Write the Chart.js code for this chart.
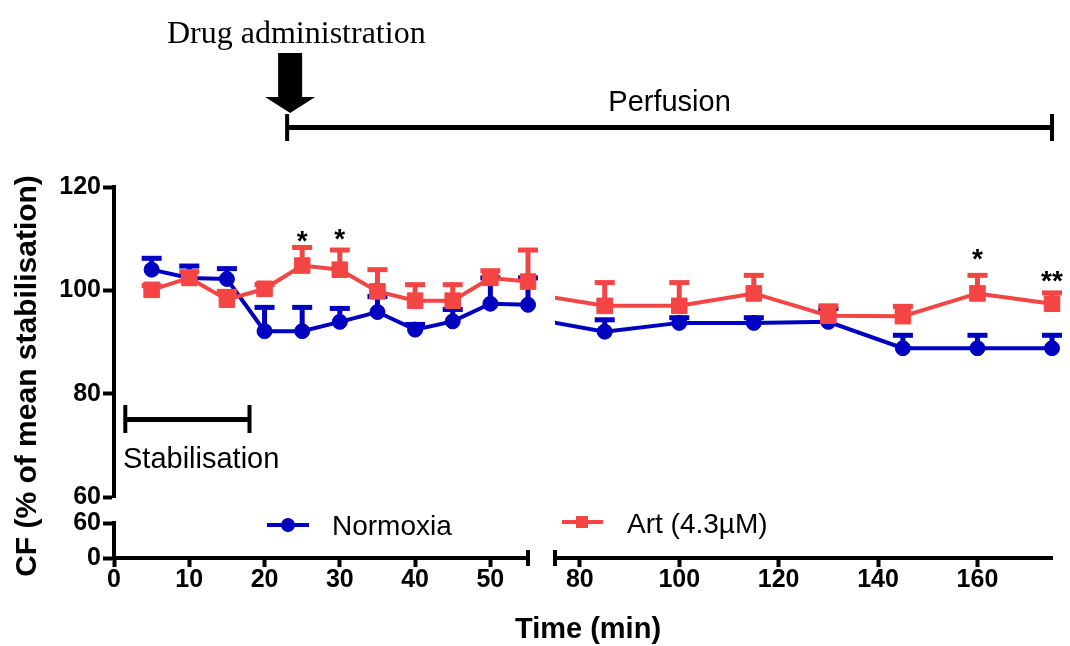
<!DOCTYPE html>
<html>
<head>
<meta charset="utf-8">
<script src="https://cdn.jsdelivr.net/npm/chart.js@4.4.0/dist/chart.umd.min.js"></script>
<style>
  html, body { margin: 0; padding: 0; background: #fff; }
  #wrap { position: relative; width: 1070px; height: 646px; overflow: hidden; }
  #wrap canvas { position: absolute; left: 0; top: 0; }
</style>
</head>
<body>
<div id="wrap">
  <canvas id="upperLeft" width="1070" height="646"></canvas>
  <canvas id="upperRight" width="1070" height="646"></canvas>
  <canvas id="lowerLeft" width="1070" height="646"></canvas>
  <canvas id="lowerRight" width="1070" height="646"></canvas>
</div>
<script>
// time points (min) and CF as % of mean stabilisation (mean, SEM)
const times = [5, 10, 15, 20, 25, 30, 35, 40, 45, 50, 55, 85, 100, 115, 130, 145, 160, 175];
const normoxia = [104.0, 102.4, 102.2, 92.1, 92.1, 93.9, 95.8, 92.4, 94.0, 97.4, 97.2, 92.0, 93.7, 93.7, 93.9, 88.8, 88.8, 88.8];
const normoxiaSem = [2.2, 2.3, 2.0, 4.6, 4.6, 2.6, 3.0, 1.0, 2.3, 5.0, 5.2, 2.3, 1.0, 1.0, 2.6, 2.5, 2.5, 2.5];
const art = [100.1, 102.4, 98.2, 100.3, 104.8, 104.0, 99.8, 98.0, 98.0, 102.4, 101.7, 97.0, 97.0, 99.4, 95.1, 95.0, 99.4, 97.4];
const artSem = [0.8, 1.2, 1.6, 0.8, 3.5, 3.8, 4.2, 3.1, 3.1, 1.4, 6.1, 4.5, 4.5, 3.5, 1.9, 1.9, 3.5, 2.1];

// significance marks
const sigTimes = [25, 30, 160, 175];
const sigMarks = ['*', '*', '*', '**'];
const sigLevels = [110.7, 111.1, 107.2, 103.0];

// axis segments and ticks
const leftTicks = [0, 10, 20, 30, 40, 50];
const rightTicks = [80, 100, 120, 140, 160];
const upperTicks = [60, 80, 100, 120];
const lowerTicks = [0, 60];

// protocol periods (min)
const stabilisation = [1.5, 18];
const perfusion = [23, 175];

const BLUE = '#0000c0';
const RED = '#f44545';
const INK = '#000';
const SANS = '"Liberation Sans", Arial, Helvetica, sans-serif';
const SERIF = '"Liberation Serif", "Times New Roman", serif';

function points(values, sems, keep) {
  return times
    .map((t, i) => ({ x: t, y: values[i], sem: sems[i] }))
    .filter(p => keep(p.x));
}

function seriesSets(keep, clip) {
  return [
    {
      label: 'Normoxia',
      data: points(normoxia, normoxiaSem, keep),
      borderColor: BLUE, backgroundColor: BLUE,
      pointStyle: 'circle', pointRadius: 7.5, pointBorderWidth: 1,
      borderWidth: 4, tension: 0, order: 2, clip
    },
    {
      label: 'Art (4.3µM)',
      data: points(art, artSem, keep),
      borderColor: RED, backgroundColor: RED,
      pointStyle: 'rect', pointRadius: 11, pointBorderWidth: 1,
      borderWidth: 4, tension: 0, order: 1, clip
    }
  ];
}

const errorBars = {
  id: 'errorBars',
  beforeDatasetDraw(chart, args) {
    const { ctx, scales: { x, y } } = chart;
    const ds = chart.data.datasets[args.index];
    ctx.save();
    ctx.fillStyle = ds.borderColor;
    ds.data.forEach(p => {
      if (p.x < x.min || p.x > x.max) return;
      const px = x.getPixelForValue(p.x);
      const py = y.getPixelForValue(p.y);
      const top = y.getPixelForValue(p.y + p.sem);
      ctx.fillRect(px - 2.5, top, 5, py - top);
      ctx.fillRect(px - 10, top - 2.5, 20, 5);
    });
    ctx.restore();
  }
};

const sigStars = {
  id: 'sigStars',
  afterDatasetsDraw(chart) {
    const { ctx, scales: { x, y } } = chart;
    ctx.save();
    ctx.fillStyle = INK;
    ctx.font = 'bold 28px ' + SANS;
    ctx.textAlign = 'center';
    ctx.textBaseline = 'alphabetic';
    sigTimes.forEach((t, i) => {
      if (t < x.min || t > x.max) return;
      ctx.fillText(sigMarks[i], x.getPixelForValue(t), y.getPixelForValue(sigLevels[i]) + 15);
    });
    ctx.restore();
  }
};

const tickFont = { family: SANS, size: 25, weight: 'bold' };

function yAxis(min, max, ticks, show) {
  return {
    type: 'linear', min, max, display: show,
    afterFit: s => { s.width = show ? 114 : 0; },
    afterBuildTicks: s => { s.ticks = ticks.map(v => ({ value: v })); },
    border: { display: true, color: INK, width: 4 },
    grid: { drawOnChartArea: false, drawTicks: true, tickLength: 11, tickWidth: 4, tickColor: INK },
    ticks: { color: INK, font: tickFont, padding: 2 }
  };
}

function xAxis(min, max, ticks, show) {
  return {
    type: 'linear', min, max, display: show,
    afterFit: s => { s.height = show ? 60 : 0; },
    afterBuildTicks: s => { s.ticks = ticks.map(v => ({ value: v })); },
    border: { display: true, color: INK, width: 4 },
    grid: { drawOnChartArea: false, drawTicks: true, tickLength: 9, tickWidth: 4, tickColor: INK },
    ticks: { color: INK, font: tickFont, padding: -2, maxRotation: 0 }
  };
}

function baseOptions(padding, scales) {
  return {
    responsive: false,
    animation: false,
    events: [],
    layout: { padding },
    plugins: { legend: { display: false }, tooltip: { enabled: false } },
    scales
  };
}

const upperLeft = new Chart(document.getElementById('upperLeft'), {
  type: 'line',
  data: { datasets: seriesSets(t => t <= 55, false) },
  options: baseOptions({ left: 0, right: 542, top: 187, bottom: 149 }, {
    x: xAxis(0, 55, leftTicks, false),
    y: yAxis(60, 120, upperTicks, true)
  }),
  plugins: [errorBars, sigStars]
});

const upperRight = new Chart(document.getElementById('upperRight'), {
  type: 'line',
  data: { datasets: seriesSets(t => t >= 55, { left: 0, right: false, top: false, bottom: false }) },
  options: baseOptions({ left: 555, right: 18, top: 187, bottom: 149 }, {
    x: xAxis(75, 175, rightTicks, false),
    y: yAxis(60, 120, upperTicks, false)
  }),
  plugins: [errorBars, sigStars]
});

const lowerLeft = new Chart(document.getElementById('lowerLeft'), {
  type: 'line',
  data: { datasets: [] },
  options: baseOptions({ left: 0, right: 542, top: 523, bottom: 28 }, {
    x: xAxis(0, 55, leftTicks, true),
    y: yAxis(0, 60, lowerTicks, true)
  })
});

const annotations = {
  id: 'annotations',
  afterDraw(chart) {
    const ctx = chart.ctx;
    const xl = upperLeft.scales.x;
    const xr = upperRight.scales.x;
    ctx.save();
    ctx.fillStyle = INK;
    ctx.textBaseline = 'alphabetic';

    // axis titles
    ctx.save();
    ctx.translate(36, 376);
    ctx.rotate(-Math.PI / 2);
    ctx.font = 'bold 30px ' + SANS;
    ctx.textAlign = 'center';
    ctx.fillText('CF (% of mean stabilisation)', 0, 0);
    ctx.restore();
    ctx.font = 'bold 29px ' + SANS;
    ctx.textAlign = 'center';
    ctx.fillText('Time (min)', 588, 638);

    // drug administration arrow
    const p0 = xl.getPixelForValue(perfusion[0]);
    const p1 = xr.getPixelForValue(perfusion[1]);
    ctx.font = '32px ' + SERIF;
    ctx.textAlign = 'left';
    ctx.fillText('Drug administration', 167, 43);
    const ax = p0 + 3;
    ctx.fillRect(ax - 12, 53, 24, 44);
    ctx.beginPath();
    ctx.moveTo(ax - 25, 97);
    ctx.lineTo(ax + 25, 97);
    ctx.lineTo(ax, 113);
    ctx.closePath();
    ctx.fill();

    // perfusion bar
    ctx.fillRect(p0 - 2, 114, 4, 27);
    ctx.fillRect(p1 - 2, 114, 4, 27);
    ctx.fillRect(p0, 125, p1 - p0, 5);
    ctx.font = '29px ' + SANS;
    ctx.textAlign = 'center';
    ctx.fillText('Perfusion', (p0 + p1) / 2, 111);

    // stabilisation bar
    const s0 = xl.getPixelForValue(stabilisation[0]);
    const s1 = xl.getPixelForValue(stabilisation[1]);
    ctx.fillRect(s0 - 2, 405, 4, 28);
    ctx.fillRect(s1 - 2, 405, 4, 28);
    ctx.fillRect(s0, 417, s1 - s0, 5);
    ctx.textAlign = 'left';
    ctx.fillText('Stabilisation', 123, 468);

    // x axis break caps
    const yb = chart.chartArea.bottom;
    ctx.fillRect(lowerLeft.chartArea.right - 2, yb - 8, 4, 16);
    ctx.fillRect(chart.chartArea.left - 2, yb - 8, 4, 16);

    // legend
    const sets = upperLeft.data.datasets;
    ctx.fillStyle = BLUE;
    ctx.fillRect(267, 523, 42, 4);
    ctx.beginPath();
    ctx.arc(288, 525, 7, 0, Math.PI * 2);
    ctx.fill();
    ctx.fillStyle = RED;
    ctx.fillRect(562, 520, 41, 4);
    ctx.fillRect(576, 516, 12, 12);
    ctx.fillStyle = INK;
    ctx.font = '28px ' + SANS;
    ctx.textAlign = 'left';
    ctx.fillText(sets[0].label, 332, 535);
    ctx.fillText(sets[1].label, 627, 533);
    ctx.restore();
  }
};

const lowerRight = new Chart(document.getElementById('lowerRight'), {
  type: 'line',
  data: { datasets: [] },
  options: baseOptions({ left: 555, right: 18, top: 523, bottom: 28 }, {
    x: xAxis(75, 175, rightTicks, true),
    y: yAxis(0, 60, lowerTicks, false)
  }),
  plugins: [annotations]
});
</script>
</body>
</html>
